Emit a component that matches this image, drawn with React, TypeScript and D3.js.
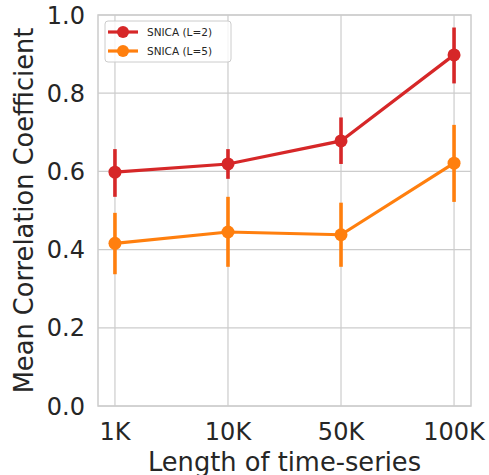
import * as d3 from "d3";
import React from "react";

const lengths = ["1K", "10K", "50K", "100K"];
const seriesNames = ["SNICA (L=2)", "SNICA (L=5)"];
const meanL2 = [0.598, 0.619, 0.678, 0.898];
const lowL2 = [0.535, 0.581, 0.619, 0.825];
const highL2 = [0.657, 0.657, 0.738, 0.968];
const meanL5 = [0.416, 0.445, 0.438, 0.621];
const lowL5 = [0.337, 0.356, 0.356, 0.522];
const highL5 = [0.494, 0.535, 0.52, 0.719];
const yTicks = [0, 0.2, 0.4, 0.6, 0.8, 1.0];
const colors = ["#d62728", "#ff7f0e"];

const series = [
  { name: seriesNames[0], mean: meanL2, low: lowL2, high: highL2 },
  { name: seriesNames[1], mean: meanL5, low: lowL5, high: highL5 },
];

export default function App(): React.ReactElement {
  const width = 489;
  const height = 475;
  const margin = { top: 15, right: 18, bottom: 69, left: 98 };
  const innerW = width - margin.left - margin.right;
  const innerH = height - margin.top - margin.bottom;

  const x = d3.scalePoint<string>().domain(lengths).range([0, innerW]).padding(0.15);
  const y = d3.scaleLinear().domain([0, 1]).range([innerH, 0]);
  const font = "DejaVu Sans, sans-serif";
  const text = "#262626";

  const line = d3
    .line<number>()
    .x((_, i) => x(lengths[i]) ?? 0)
    .y((d) => y(d));

  return (
    <svg
      width={width}
      height={height}
      style={{ position: "absolute", left: 0, top: 0 }}
      fontFamily={font}
    >
      <rect width={width} height={height} fill="#fff" />
      <g transform={`translate(${margin.left},${margin.top})`}>
        {/* grid */}
        {yTicks.map((t) => (
          <line key={`gy${t}`} x1={0} x2={innerW} y1={y(t)} y2={y(t)} stroke="#cccccc" strokeWidth={1.2} />
        ))}
        {lengths.map((l) => (
          <line key={`gx${l}`} x1={x(l)} x2={x(l)} y1={0} y2={innerH} stroke="#cccccc" strokeWidth={1.2} />
        ))}
        <rect x={0} y={0} width={innerW} height={innerH} fill="none" stroke="#cccccc" strokeWidth={1.5} />

        {/* series */}
        {series.map((s, si) => (
          <g key={s.name}>
            {s.mean.map((_, i) => (
              <line
                key={`e${i}`}
                x1={x(lengths[i])}
                x2={x(lengths[i])}
                y1={y(s.low[i])}
                y2={y(s.high[i])}
                stroke={colors[si]}
                strokeWidth={3.6}
              />
            ))}
            <path d={line(s.mean) ?? ""} fill="none" stroke={colors[si]} strokeWidth={3.2} />
            {s.mean.map((v, i) => (
              <circle key={`p${i}`} cx={x(lengths[i])} cy={y(v)} r={6.5} fill={colors[si]} />
            ))}
          </g>
        ))}

        {/* y ticks */}
        {yTicks.map((t) => (
          <text
            key={`yt${t}`}
            x={-13}
            y={y(t)}
            dy="0.36em"
            textAnchor="end"
            fontSize={24}
            fill={text}
          >
            {t.toFixed(1)}
          </text>
        ))}
        {/* x ticks */}
        {lengths.map((l) => (
          <text
            key={`xt${l}`}
            x={x(l)}
            y={innerH + 34}
            textAnchor="middle"
            fontSize={24}
            fill={text}
          >
            {l}
          </text>
        ))}

        <text
          x={innerW / 2}
          y={innerH + 65}
          textAnchor="middle"
          fontSize={25.7}
          fill={text}
        >
          Length of time-series
        </text>
        <text
          transform={`translate(${-65},${innerH / 2}) rotate(-90)`}
          textAnchor="middle"
          fontSize={25.7}
          fill={text}
        >
          Mean Correlation Coefficient
        </text>

        {/* legend */}
        <g transform="translate(7,6)">
          <rect
            x={0}
            y={0}
            width={126}
            height={41}
            rx={3}
            fill="#fff"
            fillOpacity={0.8}
            stroke="#cccccc"
            strokeWidth={1}
          />
          {series.map((s, si) => (
            <g key={`lg${si}`} transform={`translate(0,${11 + si * 19})`}>
              <line x1={3} x2={33} y1={0} y2={0} stroke={colors[si]} strokeWidth={3.2} />
              <circle cx={18} cy={0} r={6} fill={colors[si]} />
              <text x={42} y={0} dy="0.35em" fontSize={10.5} fill={text}>
                {s.name}
              </text>
            </g>
          ))}
        </g>
      </g>
    </svg>
  );
}
